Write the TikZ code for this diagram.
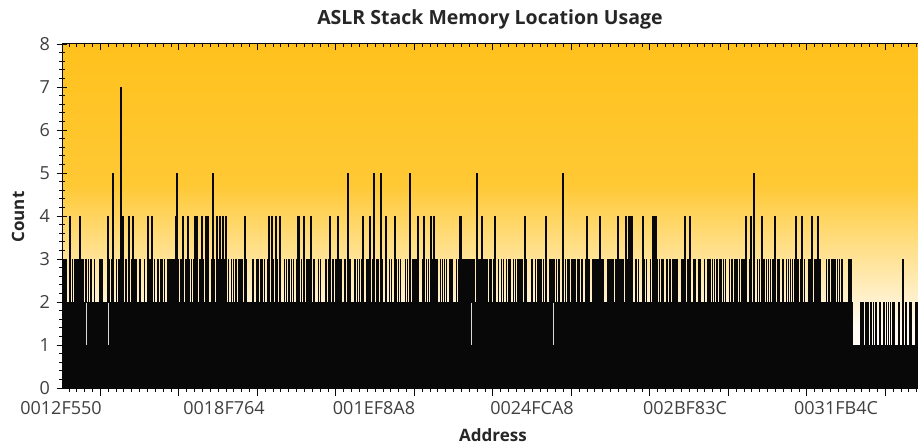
\documentclass[tikz,border=0pt]{standalone}
\usepackage{fontspec}
\setmainfont{Open Sans}
\definecolor{goldA}{HTML}{FFC11C}
\definecolor{goldB}{HTML}{FFC935}
\definecolor{goldC}{HTML}{FFFAF0}
\definecolor{barc}{HTML}{080808}
\begin{document}
\begin{tikzpicture}[x=1pt,y=-1pt,
  barfill/.style={fill=barc},
  spike/.style={draw=barc,line width=1.1pt},
  dip/.style={draw=white!85!black,line width=0.8pt},
  axisline/.style={draw=barc,line width=1pt},
  tickline/.style={draw=barc,line width=0.8pt},
  ticklabel/.style={font=\fontsize{18}{19}\selectfont,text=black!75},
  axistitle/.style={font=\fontsize{17}{18}\selectfont\bfseries,text=black!85},
  charttitle/.style={font=\fontsize{19.5}{21}\selectfont\bfseries,text=black!85}]
\useasboundingbox (0,0) rectangle (918,446);
\fill[white] (0,0) rectangle (918,446);
% plot background gradient
\shade[top color=goldA,bottom color=goldB] (62,44) rectangle (918,185.5);
\shade[top color=goldB,bottom color=goldC] (62,185) rectangle (918,325.5);
\shade[top color=goldC,bottom color=white] (62,325) rectangle (918,388);
% base levels
\fill[barfill] (62,302) rectangle (853,388);
\fill[barfill] (853,345) rectangle (918,388);
% level-3 bars
\pgfmathsetseed{7}
\foreach \i in {62,...,852}{
  \pgfmathtruncatemacro\r{rnd<0.56}
  \ifnum\r=1 \fill[barfill] (\i-0.1,302.5) rectangle (\i+1.1,259);\fi
}
% level-2 bars in the right part
\foreach \i in {860,...,917}{
  \pgfmathtruncatemacro\r{rnd<0.55}
  \ifnum\r=1 \fill[barfill] (\i-0.1,345.5) rectangle (\i+1.1,302);\fi
}
\draw[spike] (903,345) -- (903,259);
% level-4 spikes
\foreach \x in {70,80,108,123,129,133,148,152,176,183,188,195,197,202,206,208,217,220,223,226,245,269,272,
  276,280,298,299,304,311,330,338,363,370,386,395,418,424,431,434,460,461,482,
  495,525,546,587,600,618,626,629,631,632,643,653,655,656,685,690,
  746,751,762,775,796,802,812,818}
  \draw[spike] (\x,302) -- (\x,216);
% level-5 spikes
\foreach \x in {113,177,213,348,374,381,410,477,563,754}
  \draw[spike] (\x,302) -- (\x,173);
\draw[spike] (121,302) -- (121,87);
% dips
\foreach \x in {86,108,471,553}
  \draw[dip] (\x,302.5) -- (\x,345);
% axes
\draw[axisline] (62,43.5) -- (918,43.5);
\draw[axisline] (62,43.5) -- (62,388);
\draw[axisline] (62,388) -- (918,388);
% y ticks
\foreach \v in {0,...,8}{
  \pgfmathsetmacro\yy{388-43*\v}
  \draw[tickline] (56.5,\yy) -- (67,\yy);
  \node[ticklabel,anchor=east,inner sep=0pt] (yl\v) at (50,\yy) {\v};
}
\foreach \k in {1,...,39}{
  \pgfmathsetmacro\yy{388-8.6*\k}
  \draw[tickline] (59,\yy) -- (65,\yy);
}
% x ticks (bottom and top)
\foreach \k in {-4,...,104}{
  \pgfmathsetmacro\xx{100.3+7.85*\k}
  \draw[tickline] (\xx,388) -- (\xx,392);
  \draw[tickline] (\xx,43.5) -- (\xx,47);
}
\foreach \k in {0,...,10}{
  \pgfmathsetmacro\xx{100.3+78.5*\k}
  \draw[tickline] (\xx,388) -- (\xx,395.5);
  \draw[tickline] (\xx,43.5) -- (\xx,50);
}
% x labels
\node[ticklabel,inner sep=0pt] (xl1) at (61,408) {0012F550};
\node[ticklabel,inner sep=0pt] (xl2) at (224,408) {0018F764};
\node[ticklabel,inner sep=0pt] (xl3) at (374,408) {001EF8A8};
\node[ticklabel,inner sep=0pt] (xl4) at (532,408) {0024FCA8};
\node[ticklabel,inner sep=0pt] (xl5) at (685,408) {002BF83C};
\node[ticklabel,inner sep=0pt] (xl6) at (836,408) {0031FB4C};
% titles
\node[charttitle,inner sep=0pt] (title) at (490,19) {ASLR Stack Memory Location Usage};
\node[axistitle,inner sep=0pt] (xtitle) at (493,435) {Address};
\node[axistitle,inner sep=0pt,rotate=90] (ytitle) at (18,217) {Count};
\end{tikzpicture}
\end{document}
